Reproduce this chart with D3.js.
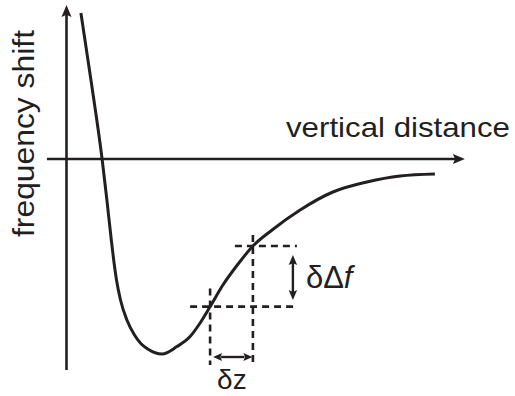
<!DOCTYPE html>
<html>
<head>
<meta charset="utf-8">
<script src="https://cdn.jsdelivr.net/npm/d3@7"></script>
<style>
  html, body { margin: 0; padding: 0; background: #fff; }
  svg { display: block; }
  text { font-family: "Liberation Sans", Arial, Helvetica, sans-serif; fill: #231f20; }
</style>
</head>
<body>
<svg id="chart" width="515" height="396"></svg>
<script>
// Frequency shift vs. vertical tip–sample distance (schematic, arbitrary units)
const distance = [0.36, 0.63, 0.89, 1.01, 1.12, 1.18, 1.25, 1.35, 1.51, 1.70, 1.87, 2.03, 2.39,
                  2.76, 3.09, 3.34, 3.59, 3.91, 4.29, 4.66, 5.14, 5.84, 6.66, 7.51, 8.34, 9.21];
const shift    = [7.3, 3.7, 0, -2.05, -4.05, -5.05, -6.05, -7.05, -8.05, -8.8, -9.25, -9.5, -9.75,
                  -9.38, -8.88, -8.2, -7.38, -6.3, -5.25, -4.35, -3.55, -2.55, -1.65, -1.15, -0.85, -0.75];

// Two neighbouring operating points used to illustrate δz and δΔf
const probeDistance = [3.59, 4.66];
const probeShift    = [-7.38, -4.35];

// Axis extents (data units)
const xAxisExtent = [-0.49, 9.96];
const yAxisExtent = [-10.55, 7.7];

const axisLabelX = "vertical distance";
const axisLabelY = "frequency shift";

const ink = "#231f20";
const svg = d3.select("#chart");

const x = d3.scaleLinear().domain([0, 10]).range([66.5, 466.5]);
const y = d3.scaleLinear().domain([0, -10]).range([159, 359]);

// filled arrowhead with a slightly notched back, tip at (tx, ty)
function arrowHead(g, tx, ty, angleDeg, len, wid) {
  const p = `M0,0 L${-len},${-wid / 2} L${-len * 0.82},0 L${-len},${wid / 2} Z`;
  g.append("path")
    .attr("d", p)
    .attr("transform", `translate(${tx},${ty}) rotate(${angleDeg})`)
    .attr("fill", ink);
}

const axes = svg.append("g");
// horizontal axis
axes.append("line")
  .attr("x1", x(xAxisExtent[0])).attr("x2", x(xAxisExtent[1]) - 8)
  .attr("y1", y(0)).attr("y2", y(0))
  .attr("stroke", ink).attr("stroke-width", 2.6);
arrowHead(axes, x(xAxisExtent[1]), y(0), 0, 12, 10);
// vertical axis
axes.append("line")
  .attr("x1", x(0)).attr("x2", x(0))
  .attr("y1", y(yAxisExtent[0])).attr("y2", y(yAxisExtent[1]) + 8)
  .attr("stroke", ink).attr("stroke-width", 2.6);
arrowHead(axes, x(0), y(yAxisExtent[1]), -90, 12, 10);

// axis titles
svg.append("text")
  .attr("x", 286).attr("y", 137)
  .attr("font-size", 28)
  .attr("textLength", 224).attr("lengthAdjust", "spacingAndGlyphs")
  .text(axisLabelX);

svg.append("text")
  .attr("transform", "translate(34,133.5) rotate(-90)")
  .attr("text-anchor", "middle")
  .attr("font-size", 29)
  .attr("textLength", 207).attr("lengthAdjust", "spacingAndGlyphs")
  .text(axisLabelY);

// guide lines through the two operating points
const guides = svg.append("g")
  .attr("stroke", ink).attr("stroke-width", 2.6)
  .attr("stroke-dasharray", "7 5");
const zA = x(probeDistance[0]), zB = x(probeDistance[1]);
const fA = y(probeShift[0]),    fB = y(probeShift[1]);
const guideRight = zB + 44;
const guideBottom = y(-10.3);

guides.append("line").attr("x1", zA - 20).attr("x2", guideRight).attr("y1", fA).attr("y2", fA);
guides.append("line").attr("x1", zB - 18).attr("x2", guideRight).attr("y1", fB).attr("y2", fB);
guides.append("line").attr("x1", zA).attr("x2", zA).attr("y1", fA - 18).attr("y2", guideBottom);
guides.append("line").attr("x1", zB).attr("x2", zB).attr("y1", fB - 11).attr("y2", guideBottom);

// the frequency-shift curve
const pts = distance.map((d, i) => [d, shift[i]]);
const line = d3.line()
  .x(d => x(d[0]))
  .y(d => y(d[1]))
  .curve(d3.curveMonotoneX);

svg.append("path")
  .datum(pts)
  .attr("d", line)
  .attr("fill", "none")
  .attr("stroke", ink)
  .attr("stroke-width", 3);

// δΔf double arrow
const ann = svg.append("g");
const dfX = zB + 40;
const dfTop = fB + 9, dfBot = fA - 6.5;
ann.append("line")
  .attr("x1", dfX).attr("x2", dfX)
  .attr("y1", dfTop + 8).attr("y2", dfBot - 8)
  .attr("stroke", ink).attr("stroke-width", 2.4);
arrowHead(ann, dfX, dfTop, -90, 10, 8.5);
arrowHead(ann, dfX, dfBot, 90, 10, 8.5);

// δz double arrow
const dzY = y(-9.9);
const dzL = zA + 3, dzR = zB - 0.5;
ann.append("line")
  .attr("x1", dzL + 8).attr("x2", dzR - 8)
  .attr("y1", dzY).attr("y2", dzY)
  .attr("stroke", ink).attr("stroke-width", 2.4);
arrowHead(ann, dzL, dzY, 180, 9, 8);
arrowHead(ann, dzR, dzY, 0, 9, 8);

// annotation labels
const dfLabel = svg.append("text")
  .attr("x", dfX + 13).attr("y", 288)
  .attr("font-size", 31);
dfLabel.append("tspan").text("δΔ");
dfLabel.append("tspan").attr("font-style", "italic").text("f");

svg.append("text")
  .attr("x", zA + 7).attr("y", 389)
  .attr("font-size", 28)
  .text("δz");
</script>
</body>
</html>
